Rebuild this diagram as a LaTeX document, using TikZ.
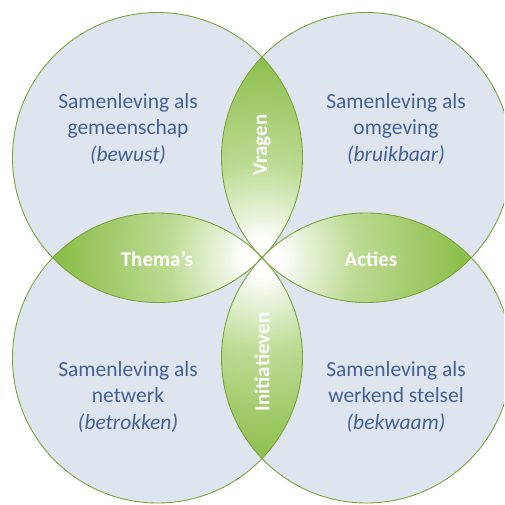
\documentclass[tikz,border=0pt]{standalone}
\usepackage{fontspec}
\setmainfont{Carlito}
\definecolor{circfill}{RGB}{223,229,239}
\definecolor{circline}{RGB}{122,165,60}
\definecolor{txtblue}{RGB}{68,98,145}
\definecolor{glight}{RGB}{190,220,150}
\definecolor{gmid}{RGB}{140,190,75}
\definecolor{gdark}{RGB}{100,158,32}
\pgfdeclareradialshading{lensshade}{\pgfpoint{0bp}{0bp}}{color(0bp)=(white); color(2bp)=(white); color(11bp)=(glight); color(24bp)=(gmid); color(50bp)=(gdark)}
\tikzset{
  circbody/.style={fill=circfill},
  circedge/.style={draw=circline, line width=0.9pt},
  samtext/.style={text=txtblue, align=center, inner sep=0pt, font=\fontsize{21.5}{26.5}\selectfont},
  lenstext/.style={text=white, inner sep=0pt, font=\bfseries\fontsize{21}{25}\selectfont}
}
\begin{document}
\begin{tikzpicture}[x=1pt,y=-1pt]
\useasboundingbox (0,0) rectangle (504,505);
\clip (0,0) rectangle (504,505);
\coordinate (ctl) at (157.5,157.5);
\coordinate (ctr) at (366.5,157.5);
\coordinate (cbl) at (157.5,358);
\coordinate (cbr) at (366.5,358);
\coordinate (cx) at (262,258);
% circle bodies
\foreach \c in {ctl,ctr,cbl,cbr}{
  \fill[circbody] (\c) circle (145pt);
}
% lenses
\begin{scope}
  \clip (ctl) circle (145pt);
  \clip (ctr) circle (145pt);
  \shade[shading=lensshade] (cx) circle (210pt);
\end{scope}
\begin{scope}
  \clip (ctl) circle (145pt);
  \clip (cbl) circle (145pt);
  \shade[shading=lensshade] (cx) circle (210pt);
\end{scope}
\begin{scope}
  \clip (ctr) circle (145pt);
  \clip (cbr) circle (145pt);
  \shade[shading=lensshade] (cx) circle (210pt);
\end{scope}
\begin{scope}
  \clip (cbl) circle (145pt);
  \clip (cbr) circle (145pt);
  \shade[shading=lensshade] (cx) circle (210pt);
\end{scope}
% outlines
\foreach \c in {ctl,ctr,cbl,cbr}{
  \draw[circedge] (\c) circle (145pt);
}
% texts
\node[samtext] (ttl) at (128,129) {Samenleving als\\gemeenschap\\\textit{(bewust)}};
\node[samtext] (ttr) at (396,129) {Samenleving als\\omgeving\\\textit{(bruikbaar)}};
\node[samtext] (tbl) at (128,397) {Samenleving als\\netwerk\\\textit{(betrokken)}};
\node[samtext] (tbr) at (396,397) {Samenleving als\\werkend stelsel\\\textit{(bekwaam)}};
\node[lenstext, rotate=90] (vragen) at (262,145) {Vragen};
\node[lenstext] (themas) at (157,259) {Thema’s};
\node[lenstext] (acties) at (371,259) {Acties};
\node[lenstext, rotate=90] (init) at (262,362) {Initiatieven};
\end{tikzpicture}
\end{document}
